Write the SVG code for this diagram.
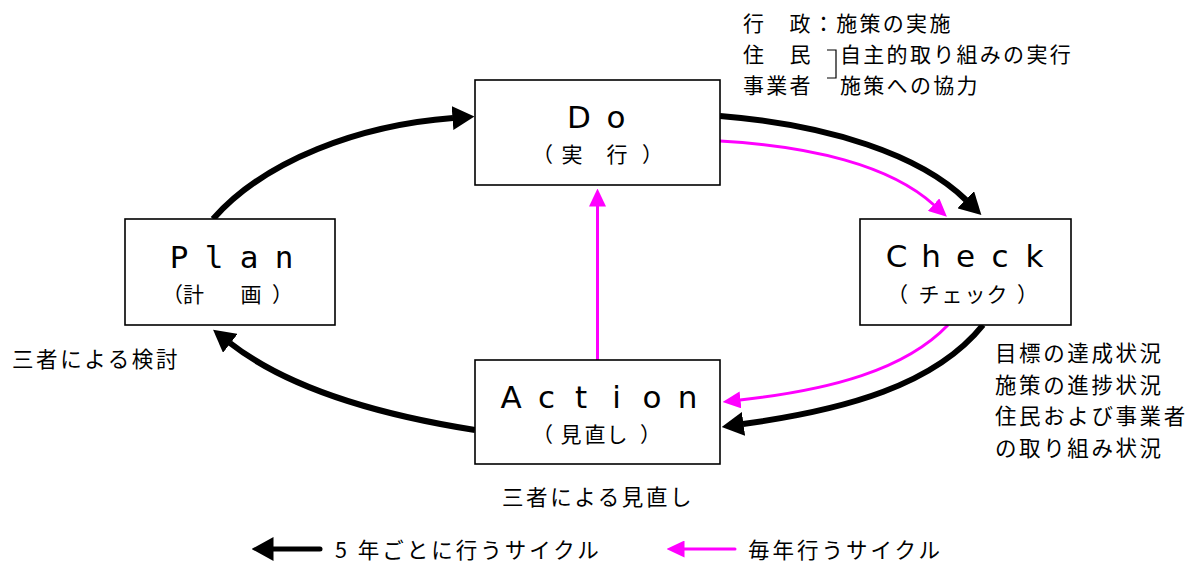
<svg xmlns="http://www.w3.org/2000/svg" width="1195" height="566" viewBox="0 0 1195 566">
<style>
text{text-spacing-trim:space-all}
.box{fill:#fff;stroke:#000;stroke-width:1.6}
.ttl{font-family:"DejaVu Sans",sans-serif;font-size:31px;fill:#000;text-anchor:middle}
.mono{font-family:"DejaVu Sans Mono","DejaVu Sans",monospace}
.sub{font-family:"Noto Sans CJK JP",sans-serif;font-size:21px;fill:#000;text-anchor:middle}
.lbl{font-family:"Noto Sans CJK JP",sans-serif;font-size:21.5px;letter-spacing:2.6px;fill:#000}
.lbl2{font-family:"Noto Sans CJK JP",sans-serif;font-size:21px;letter-spacing:2.3px;fill:#000}
.leg{font-family:"Noto Sans CJK JP",sans-serif;font-size:21.5px;letter-spacing:3px;fill:#000}
.blk{fill:none;stroke:#000;stroke-width:6;marker-end:url(#ahB)}
.mag{fill:none;stroke:#FF00FF;stroke-width:3;marker-end:url(#ahM)}
</style>
<defs>
<marker id="ahB" markerUnits="userSpaceOnUse" markerWidth="22" markerHeight="24" viewBox="0 0 22 24" refX="0.5" refY="12" orient="auto"><path d="M0,0 L22,12 L0,24 Z" fill="#000"/></marker>
<marker id="ahM" markerUnits="userSpaceOnUse" markerWidth="18" markerHeight="17" viewBox="0 0 18 17" refX="0.5" refY="8.5" orient="auto"><path d="M0,0 L18,8.5 L0,17 Z" fill="#FF00FF"/></marker>
</defs>

<g id="connectors">
<path class="blk" d="M213,219 C265,160 360,125 453,118"/>
<path class="blk" d="M720,116 C830,125 920,155 966,200"/>
<path class="blk" d="M983,325 C935,385 845,410 743,424"/>
<path class="blk" d="M475,430 C380,415 290,390 230,343"/>
<path class="mag" d="M720,141 C810,146 890,165 934,205"/>
<path class="mag" d="M948,325 C905,370 830,390 740,400"/>
<path class="mag" d="M597.5,360 L597.5,206"/>
</g>

<g id="do">
<rect class="box" x="475" y="80" width="245" height="105"/>
<text class="ttl" x="579 616" y="128">Do</text>
<text class="sub" x="542.5 572 595 617 652.5" y="162">（実　行）</text>
</g>

<g id="check">
<rect class="box" x="860" y="219" width="211" height="106"/>
<text class="ttl" x="896.5 931 965.5 1000 1034.5" y="267">Check</text>
<text class="sub" x="897.5 929 952 975 997 1027.5" y="302">（チェック）</text>
</g>

<g id="plan">
<rect class="box" x="125" y="219" width="210" height="106"/>
<text class="ttl mono" x="179 214 249 284" y="268">Plan</text>
<text class="sub" x="172.5 193.5 222 251 282.5" y="302">（計　画）</text>
</g>

<g id="action">
<rect class="box" x="475" y="360" width="245" height="104"/>
<text class="ttl" x="511 546.5 581 616.5 652 687.5" y="408">Action</text>
<text class="sub" x="542.5 571 595 617 650.5" y="442">（見直し）</text>
</g>

<g id="do-note">
<text class="lbl2" x="743" y="31">行　政：施策の実施</text>
<text class="lbl2" x="743" y="62">住　民</text>
<text class="lbl2" x="840" y="62">自主的取り組みの実行</text>
<text class="lbl2" x="743" y="93">事業者</text>
<text class="lbl2" x="840" y="93">施策への協力</text>
<path d="M827,50 H836 V78 H827" fill="none" stroke="#000" stroke-width="1.2"/>
</g>

<g id="check-note">
<text class="lbl" x="995" y="361">目標の達成状況</text>
<text class="lbl" x="995" y="393">施策の進捗状況</text>
<text class="lbl" x="995" y="424">住民および事業者</text>
<text class="lbl" x="995" y="456">の取り組み状況</text>
</g>

<g id="plan-note">
<text class="lbl" x="12" y="367">三者による検討</text>
</g>

<g id="action-note">
<text class="lbl" x="502" y="505">三者による見直し</text>
</g>

<g id="legend">
<path d="M320,549 L273,549" fill="none" stroke="#000" stroke-width="5" stroke-linecap="round" marker-end="url(#ahB)"/>
<text class="leg" x="335" y="558">5 年ごとに行うサイクル</text>
<path d="M735,549 L684,549" fill="none" stroke="#FF00FF" stroke-width="3" stroke-linecap="round" marker-end="url(#ahM)"/>
<text class="leg" x="748" y="558">毎年行うサイクル</text>
</g>
</svg>
